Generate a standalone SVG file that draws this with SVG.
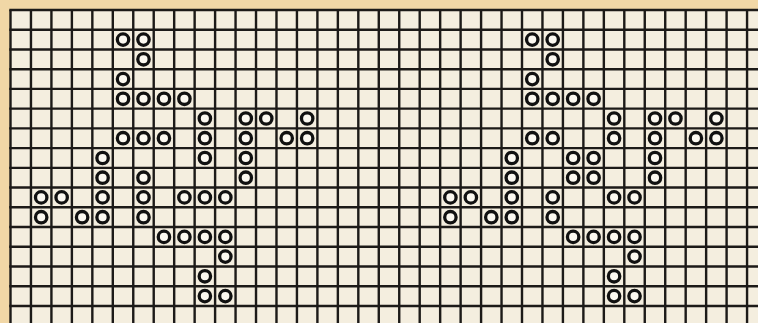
<svg xmlns="http://www.w3.org/2000/svg" width="758" height="323" viewBox="0 0 758 323">
<style>
.bg{fill:#f1d7a6}
.paper{fill:#f4eedf}
.grid{stroke:#1c1a18;stroke-width:2.4;fill:none}
.o{fill:#fbf8f0;stroke:#111;stroke-width:3.3}
</style>
<rect class="bg" x="0" y="0" width="758" height="323"/>
<rect class="paper" x="10.5" y="10" width="747.5" height="313"/>
<g id="grid">
<path class="grid" d="M10.5 10V323M30.96 10V323M51.42 10V323M71.88 10V323M92.34 10V323M112.8 10V323M133.26 10V323M153.72 10V323M174.18 10V323M194.64 10V323M215.1 10V323M235.56 10V323M256.02 10V323M276.48 10V323M296.94 10V323M317.4 10V323M337.86 10V323M358.32 10V323M378.78 10V323M399.24 10V323M419.7 10V323M440.16 10V323M460.62 10V323M481.08 10V323M501.54 10V323M522 10V323M542.46 10V323M562.92 10V323M583.38 10V323M603.84 10V323M624.3 10V323M644.76 10V323M665.22 10V323M685.68 10V323M706.14 10V323M726.6 10V323M747.06 10V323"/>
<path class="grid" d="M9.3 10H758M9.3 29.73H758M9.3 49.46H758M9.3 69.19H758M9.3 88.92H758M9.3 108.65H758M9.3 128.38H758M9.3 148.11H758M9.3 167.84H758M9.3 187.57H758M9.3 207.3H758M9.3 227.03H758M9.3 246.76H758M9.3 266.49H758M9.3 286.22H758M9.3 305.95H758"/>
</g>
<g id="pattern-left">
<circle class="o" cx="123.03" cy="39.6" r="5.7"/><circle class="o" cx="143.49" cy="39.6" r="5.7"/>
<circle class="o" cx="143.49" cy="59.3" r="5.7"/>
<circle class="o" cx="123.03" cy="79.1" r="5.7"/>
<circle class="o" cx="123.03" cy="98.8" r="5.7"/><circle class="o" cx="143.49" cy="98.8" r="5.7"/><circle class="o" cx="163.95" cy="98.8" r="5.7"/><circle class="o" cx="184.41" cy="98.8" r="5.7"/>
<circle class="o" cx="204.87" cy="118.5" r="5.7"/><circle class="o" cx="245.79" cy="118.5" r="5.7"/><circle class="o" cx="266.25" cy="118.5" r="5.7"/><circle class="o" cx="307.17" cy="118.5" r="5.7"/>
<circle class="o" cx="123.03" cy="138.2" r="5.7"/><circle class="o" cx="143.49" cy="138.2" r="5.7"/><circle class="o" cx="163.95" cy="138.2" r="5.7"/><circle class="o" cx="204.87" cy="138.2" r="5.7"/><circle class="o" cx="245.79" cy="138.2" r="5.7"/><circle class="o" cx="286.71" cy="138.2" r="5.7"/><circle class="o" cx="307.17" cy="138.2" r="5.7"/>
<circle class="o" cx="102.57" cy="158" r="5.7"/><circle class="o" cx="204.87" cy="158" r="5.7"/><circle class="o" cx="245.79" cy="158" r="5.7"/>
<circle class="o" cx="102.57" cy="177.7" r="5.7"/><circle class="o" cx="143.49" cy="177.7" r="5.7"/><circle class="o" cx="245.79" cy="177.7" r="5.7"/>
<circle class="o" cx="41.19" cy="197.4" r="5.7"/><circle class="o" cx="61.65" cy="197.4" r="5.7"/><circle class="o" cx="102.57" cy="197.4" r="5.7"/><circle class="o" cx="143.49" cy="197.4" r="5.7"/><circle class="o" cx="184.41" cy="197.4" r="5.7"/><circle class="o" cx="204.87" cy="197.4" r="5.7"/><circle class="o" cx="225.33" cy="197.4" r="5.7"/>
<circle class="o" cx="41.19" cy="217.2" r="5.7"/><circle class="o" cx="82.11" cy="217.2" r="5.7"/><circle class="o" cx="102.57" cy="217.2" r="5.7"/><circle class="o" cx="143.49" cy="217.2" r="5.7"/>
<circle class="o" cx="163.95" cy="236.9" r="5.7"/><circle class="o" cx="184.41" cy="236.9" r="5.7"/><circle class="o" cx="204.87" cy="236.9" r="5.7"/><circle class="o" cx="225.33" cy="236.9" r="5.7"/>
<circle class="o" cx="225.33" cy="256.6" r="5.7"/>
<circle class="o" cx="204.87" cy="276.3" r="5.7"/>
<circle class="o" cx="204.87" cy="296.1" r="5.7"/><circle class="o" cx="225.33" cy="296.1" r="5.7"/>
</g>
<g id="pattern-right">
<circle class="o" cx="532.23" cy="39.6" r="5.7"/><circle class="o" cx="552.69" cy="39.6" r="5.7"/>
<circle class="o" cx="552.69" cy="59.3" r="5.7"/>
<circle class="o" cx="532.23" cy="79.1" r="5.7"/>
<circle class="o" cx="532.23" cy="98.8" r="5.7"/><circle class="o" cx="552.69" cy="98.8" r="5.7"/><circle class="o" cx="573.15" cy="98.8" r="5.7"/><circle class="o" cx="593.61" cy="98.8" r="5.7"/>
<circle class="o" cx="614.07" cy="118.5" r="5.7"/><circle class="o" cx="654.99" cy="118.5" r="5.7"/><circle class="o" cx="675.45" cy="118.5" r="5.7"/><circle class="o" cx="716.37" cy="118.5" r="5.7"/>
<circle class="o" cx="532.23" cy="138.2" r="5.7"/><circle class="o" cx="552.69" cy="138.2" r="5.7"/><circle class="o" cx="614.07" cy="138.2" r="5.7"/><circle class="o" cx="654.99" cy="138.2" r="5.7"/><circle class="o" cx="695.91" cy="138.2" r="5.7"/><circle class="o" cx="716.37" cy="138.2" r="5.7"/>
<circle class="o" cx="511.77" cy="158" r="5.7"/><circle class="o" cx="573.15" cy="158" r="5.7"/><circle class="o" cx="593.61" cy="158" r="5.7"/><circle class="o" cx="654.99" cy="158" r="5.7"/>
<circle class="o" cx="511.77" cy="177.7" r="5.7"/><circle class="o" cx="573.15" cy="177.7" r="5.7"/><circle class="o" cx="593.61" cy="177.7" r="5.7"/><circle class="o" cx="654.99" cy="177.7" r="5.7"/>
<circle class="o" cx="450.39" cy="197.4" r="5.7"/><circle class="o" cx="470.85" cy="197.4" r="5.7"/><circle class="o" cx="511.77" cy="197.4" r="5.7"/><circle class="o" cx="552.69" cy="197.4" r="5.7"/><circle class="o" cx="614.07" cy="197.4" r="5.7"/><circle class="o" cx="634.53" cy="197.4" r="5.7"/>
<circle class="o" cx="450.39" cy="217.2" r="5.7"/><circle class="o" cx="491.31" cy="217.2" r="5.7"/><circle class="o" cx="511.77" cy="217.2" r="5.7"/><circle class="o" cx="552.69" cy="217.2" r="5.7"/>
<circle class="o" cx="573.15" cy="236.9" r="5.7"/><circle class="o" cx="593.61" cy="236.9" r="5.7"/><circle class="o" cx="614.07" cy="236.9" r="5.7"/><circle class="o" cx="634.53" cy="236.9" r="5.7"/>
<circle class="o" cx="634.53" cy="256.6" r="5.7"/>
<circle class="o" cx="614.07" cy="276.3" r="5.7"/>
<circle class="o" cx="614.07" cy="296.1" r="5.7"/><circle class="o" cx="634.53" cy="296.1" r="5.7"/>
</g>
</svg>
